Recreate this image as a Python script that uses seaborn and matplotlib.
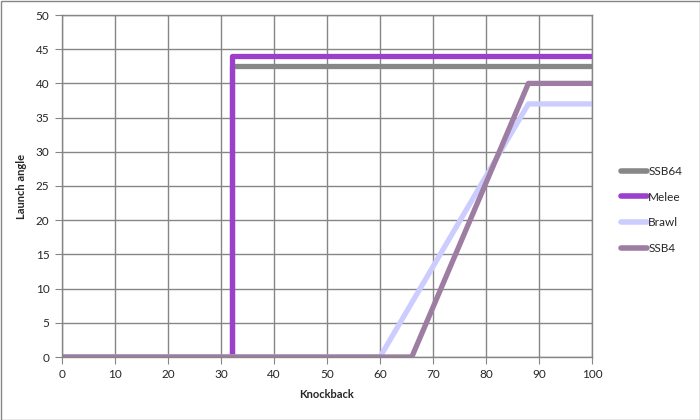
import pandas as pd
import matplotlib
matplotlib.use("Agg")
import matplotlib.pyplot as plt
import seaborn as sns

# breakpoints of each curve (knockback -> launch angle)
ssb64_x = [0, 32, 32, 100]
ssb64_y = [0, 0, 42.5, 42.5]
melee_x = [0, 32, 32, 100]
melee_y = [0, 0, 44, 44]
brawl_x = [0, 60, 88, 100]
brawl_y = [0, 0, 37, 37]
ssb4_x = [0, 66, 88, 100]
ssb4_y = [0, 0, 40, 40]

series = ["SSB64", "Melee", "Brawl", "SSB4"]
colors = ["#878787", "#9B3FCC", "#CCCCFF", "#9E7DA2"]

frames = []
for name, xs, ys in zip(series, [ssb64_x, melee_x, brawl_x, ssb4_x], [ssb64_y, melee_y, brawl_y, ssb4_y]):
    frames.append(pd.DataFrame({"Knockback": xs, "Launch angle": ys, "Game": name}))
df = pd.concat(frames, ignore_index=True)

sns.set_style("white")
plt.rcParams['font.family'] = ['Lato', 'DejaVu Sans']

fig = plt.figure(figsize=(7, 4.2), dpi=100)
ax = fig.add_axes([62 / 700, 63 / 420, 530 / 700, 342 / 420])

sns.lineplot(data=df, x="Knockback", y="Launch angle", hue="Game", hue_order=series,
             palette=colors, estimator=None, sort=False, units="Game", linewidth=3.8, ax=ax)
for line in ax.get_lines():
    line.set_solid_capstyle("round")

ax.set_xlim(0, 100)
ax.set_ylim(0, 50)
ax.set_xticks(range(0, 101, 10))
ax.set_yticks(range(0, 51, 5))
ax.grid(True, color="#868686", linewidth=1)
ax.set_axisbelow(True)
for s in ax.spines.values():
    s.set_color("#868686")
    s.set_linewidth(1)
ax.tick_params(axis="both", which="both", direction="out", length=5, color="#868686",
               labelsize=8.5, pad=4, left=True, bottom=True)
ax.set_xlabel("Knockback", fontsize=8, fontweight="bold", labelpad=6)
ax.set_ylabel("Launch angle", fontsize=8, fontweight="bold", labelpad=6)

leg = ax.legend(loc="center left", bbox_to_anchor=(1.035, 0.43), frameon=False, fontsize=8.5,
                handlelength=2.2, handletextpad=0.1, labelspacing=1.25, title=None)
for h in leg.legend_handles:
    h.set_linewidth(4)
    h.set_solid_capstyle("round")

fig.patches.append(plt.Rectangle((0.5 / 700, 0.5 / 420), 699 / 700, 419 / 420, transform=fig.transFigure,
                                 fill=False, edgecolor="#868686", linewidth=1))

fig.savefig("out.png", dpi=100)
